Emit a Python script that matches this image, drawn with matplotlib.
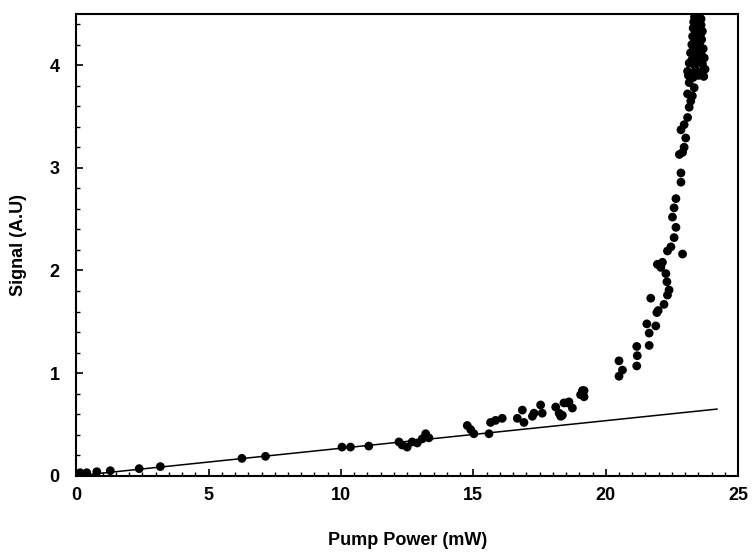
import numpy as np
import matplotlib
matplotlib.use("Agg")
import matplotlib.pyplot as plt
from matplotlib.ticker import MultipleLocator

plt.rcParams['font.family'] = ['Liberation Sans', 'DejaVu Sans']
plt.rcParams['font.weight'] = 'bold'

# measured points (pump power in mW, signal in A.U)
pump = [0.15, 0.4, 0.78, 1.29, 2.38, 3.18, 6.26, 7.15, 10.04, 10.36,
        11.05, 12.19, 12.31, 12.5, 12.69, 12.88, 13.07, 13.2, 13.32,
        14.77, 14.9, 15.02, 15.59, 15.65, 15.84, 16.09, 16.66, 16.85, 16.91,
        17.23, 17.29, 17.54, 17.6, 18.11, 18.24, 18.3, 18.36, 18.42, 18.55,
        18.61, 18.74, 19.05, 19.12, 19.18, 19.18,
        20.5, 20.5, 20.63, 21.17, 21.19, 21.17, 21.55, 21.64, 21.64, 21.89,
        21.7, 21.93, 21.98, 22.2, 22.33, 22.39, 22.31, 22.27, 21.95, 22.14,
        22.08, 22.33, 22.46, 22.9, 22.58, 22.65, 22.52, 22.58, 22.65, 22.84,
        22.84, 22.78, 22.9, 22.96, 23.02, 22.84, 22.96, 23.09, 23.15, 23.21,
        23.09, 23.27, 23.15, 23.34, 23.09]
signal = [0.03, 0.03, 0.04, 0.05, 0.07, 0.09, 0.17, 0.19, 0.28, 0.28,
          0.29, 0.33, 0.30, 0.28, 0.33, 0.32, 0.36, 0.41, 0.37,
          0.49, 0.45, 0.41, 0.41, 0.52, 0.54, 0.56, 0.56, 0.64, 0.52,
          0.58, 0.61, 0.69, 0.61, 0.67, 0.61, 0.58, 0.59, 0.71, 0.71,
          0.72, 0.66, 0.79, 0.83, 0.83, 0.77,
          1.12, 0.97, 1.03, 1.26, 1.17, 1.07, 1.48, 1.39, 1.27, 1.46,
          1.73, 1.59, 1.61, 1.67, 1.76, 1.81, 1.89, 1.97, 2.06, 2.08,
          2.03, 2.19, 2.23, 2.16, 2.32, 2.42, 2.52, 2.61, 2.70, 2.86,
          2.95, 3.13, 3.15, 3.20, 3.29, 3.37, 3.42, 3.49, 3.59, 3.65,
          3.72, 3.70, 3.83, 3.78, 3.94]

# dense cluster near the top
pump_top = [23.12, 23.2, 23.3, 23.4, 23.5, 23.6, 23.7, 23.75,
            23.15, 23.25, 23.35, 23.45, 23.55, 23.65, 23.72,
            23.2, 23.3, 23.4, 23.5, 23.6, 23.68,
            23.25, 23.35, 23.45, 23.55, 23.62,
            23.28, 23.38, 23.48, 23.58, 23.65,
            23.3, 23.4, 23.5, 23.6,
            23.32, 23.42, 23.52, 23.6,
            23.35, 23.45, 23.55]
signal_top = [3.90, 3.92, 3.88, 3.95, 3.90, 3.93, 3.89, 3.96,
              4.02, 4.05, 4.00, 4.06, 4.03, 4.01, 4.07,
              4.12, 4.15, 4.10, 4.14, 4.11, 4.16,
              4.20, 4.24, 4.19, 4.22, 4.25,
              4.28, 4.31, 4.27, 4.30, 4.33,
              4.36, 4.38, 4.35, 4.39,
              4.42, 4.44, 4.41, 4.45,
              4.47, 4.48, 4.46]

# linear fit through the low power region
fit_x = [0.0, 24.2]
fit_y = [0.0, 0.65]

fig = plt.figure(figsize=(7.54, 5.52), dpi=100)
ax = fig.add_axes([0.101, 0.138, 0.878, 0.837])

ax.scatter(pump, signal, s=40, color='black', edgecolors='none', zorder=3)
ax.scatter(pump_top, signal_top, s=40, color='black', edgecolors='none', zorder=3)
ax.plot(fit_x, fit_y, color='black', lw=1.1, zorder=2)

ax.set_xlim(0, 25)
ax.set_ylim(0, 4.5)
ax.xaxis.set_major_locator(MultipleLocator(5))
ax.xaxis.set_minor_locator(MultipleLocator(0.5))
ax.yaxis.set_major_locator(MultipleLocator(1))
ax.yaxis.set_minor_locator(MultipleLocator(0.2))
ax.tick_params(which='both', direction='in', top=False, right=False)
ax.tick_params(which='major', length=5, width=1.2, labelsize=13)
ax.tick_params(which='minor', length=3, width=1.0)
ax.tick_params(axis='x', pad=8)
ax.tick_params(axis='y', pad=12)
for sp in ax.spines.values():
    sp.set_linewidth(1.5)

ax.set_xlabel('Pump Power (mW)', fontsize=13, fontweight='bold', labelpad=20)
ax.set_ylabel('Signal (A.U)', fontsize=13, fontweight='bold', labelpad=16)

fig.savefig('out.png', dpi=100)
